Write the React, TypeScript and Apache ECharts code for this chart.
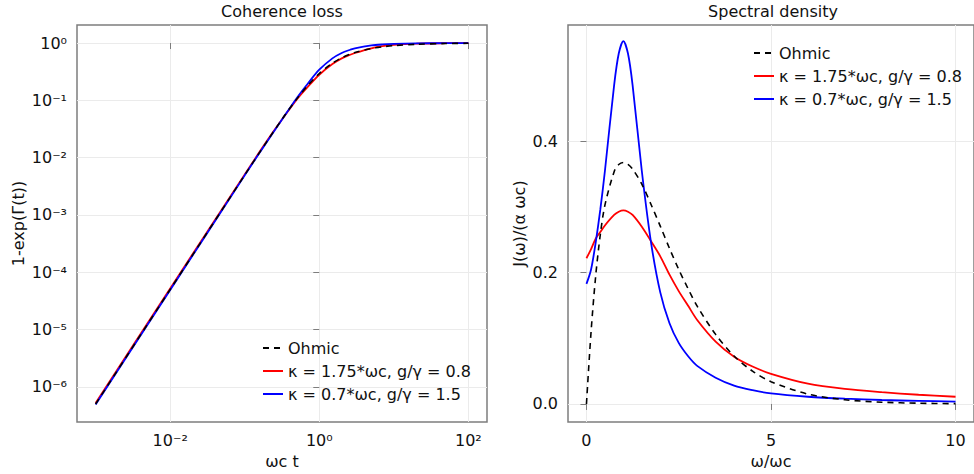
import React, { useEffect, useRef } from 'react';
import * as echarts from 'echarts';

// ---- Left panel: coherence loss 1-exp(Γ(t)) vs ωc t (log-log) ----
const tValues = [0.001, 0.01, 0.1, 0.2, 0.33, 0.5, 0.7, 1, 1.5, 2, 2.6, 3, 5, 7, 10, 20, 50, 100];
const ohmicLoss = [5.0e-7, 5.0e-5, 4.96e-3, 0.0194, 0.0505, 0.106, 0.181, 0.293, 0.445, 0.553, 0.641, 0.684, 0.804, 0.859, 0.9, 0.95, 0.98, 0.99];
const redLoss = [5.2e-7, 5.2e-5, 5.1e-3, 0.0198, 0.05, 0.104, 0.172, 0.28, 0.43, 0.54, 0.625, 0.67, 0.81, 0.88, 0.93, 0.975, 0.993, 0.998];
const blueLoss = [4.9e-7, 4.9e-5, 4.9e-3, 0.0192, 0.05, 0.11, 0.195, 0.342, 0.54, 0.67, 0.764, 0.81, 0.91, 0.945, 0.965, 0.985, 0.995, 0.998];
const leftXTicks = [-2, 0, 2]; // exponents
const leftYTicks = [-6, -5, -4, -3, -2, -1, 0]; // exponents

// ---- Right panel: spectral density J(ω)/(α ωc) vs ω/ωc ----
const omega = [0, 0.125, 0.25, 0.375, 0.5, 0.75, 0.875, 1, 1.125, 1.25, 1.5, 1.75, 2, 2.25, 2.5, 2.75, 3, 3.5, 4, 4.5, 5, 6, 7, 8, 9, 10];
const ohmicJ = [0, 0.11, 0.195, 0.258, 0.303, 0.354, 0.365, 0.368, 0.365, 0.358, 0.335, 0.304, 0.271, 0.237, 0.205, 0.176, 0.149, 0.106, 0.073, 0.05, 0.034, 0.015, 0.0064, 0.0027, 0.0011, 0.00045];
const redJ = [0.222, 0.236, 0.252, 0.262, 0.272, 0.288, 0.293, 0.295, 0.293, 0.288, 0.27, 0.248, 0.225, 0.197, 0.172, 0.15, 0.128, 0.095, 0.072, 0.057, 0.046, 0.031, 0.023, 0.018, 0.014, 0.011];
const blueJ = [0.183, 0.205, 0.246, 0.296, 0.355, 0.486, 0.534, 0.553, 0.534, 0.486, 0.355, 0.246, 0.17, 0.123, 0.093, 0.073, 0.058, 0.04, 0.028, 0.021, 0.016, 0.011, 0.008, 0.006, 0.0047, 0.0037];
const rightXTicks = [0, 5, 10];
const rightYTicks = [0, 0.2, 0.4];

const seriesNames = ['Ohmic', 'κ = 1.75*ωc, g/γ = 0.8', 'κ = 0.7*ωc, g/γ = 1.5'];
const titles = ['Coherence loss', 'Spectral density'];

const FONT = 'DejaVu Sans';
const SPINE = '#7d7d7d';
const GRIDLINE = '#ebebeb';

const SUP: Record<string, string> = {
  '-': '⁻', '0': '⁰', '1': '¹', '2': '²', '3': '³', '4': '⁴', '5': '⁵', '6': '⁶', '7': '⁷', '8': '⁸', '9': '⁹',
};
const pow10Label = (v: number) => '10' + String(Math.round(v)).split('').map((c) => SUP[c] ?? c).join('');

function makeAxis(opts: any) {
  const { gridIndex, min, max, ticks, formatter, name, nameGap } = opts;
  return {
    type: 'value',
    gridIndex,
    min,
    max,
    name,
    nameLocation: 'middle',
    nameGap,
    nameTextStyle: { fontFamily: FONT, fontSize: 16, color: '#111' },
    axisLine: { show: false },
    axisTick: { show: true, customValues: ticks, length: 6, lineStyle: { color: SPINE, width: 1 } },
    axisLabel: {
      show: true,
      customValues: ticks,
      formatter,
      fontFamily: FONT,
      fontSize: 16,
      color: '#111',
      margin: 10,
    },
    splitLine: { show: true, lineStyle: { color: GRIDLINE, width: 1 } },
  };
}

const lineStyles = [
  { color: '#000000', width: 1.6, type: [6, 5] as any },
  { color: '#ff0000', width: 1.8, type: 'solid' },
  { color: '#0000ff', width: 1.8, type: 'solid' },
];

export default function App() {
  const ref = useRef<HTMLDivElement>(null);
  useEffect(() => {
    if (!ref.current) return;
    const chart = echarts.init(ref.current, undefined, { renderer: 'svg' });

    const leftData = [ohmicLoss, redLoss, blueLoss].map((ys) =>
      tValues.map((t, i) => [Math.log10(t), Math.log10(ys[i])])
    );
    const rightData = [ohmicJ, redJ, blueJ].map((ys) => omega.map((w, i) => [w, ys[i]]));

    const series: any[] = [];
    [leftData, rightData].forEach((panel, p) => {
      panel.forEach((d, k) => {
        series.push({
          type: 'line',
          name: seriesNames[k],
          xAxisIndex: p,
          yAxisIndex: p,
          data: d,
          showSymbol: false,
          symbol: 'none',
          smooth: 0.3,
          lineStyle: lineStyles[k],
          itemStyle: { color: lineStyles[k].color },
          z: k === 0 ? 3 : 2,
        });
      });
    });

    const legendCommon = {
      orient: 'vertical',
      data: seriesNames,
      itemWidth: 20,
      itemHeight: 14,
      itemGap: 7,
      selectedMode: false,
      padding: 0,
      itemStyle: { opacity: 0, color: 'transparent', borderColor: 'transparent', borderWidth: 0 },
      textStyle: { fontFamily: FONT, fontSize: 16, color: '#111', lineHeight: 16 },
    };

    chart.setOption({
      animation: false,
      backgroundColor: '#ffffff',
      title: [
        {
          text: titles[0],
          left: 282,
          top: 3,
          textAlign: 'center',
          padding: 0,
          textStyle: { fontFamily: FONT, fontSize: 16, fontWeight: 'normal', color: '#111' },
        },
        {
          text: titles[1],
          left: 773,
          top: 3,
          textAlign: 'center',
          padding: 0,
          textStyle: { fontFamily: FONT, fontSize: 16, fontWeight: 'normal', color: '#111' },
        },
      ],
      legend: [
        { ...legendCommon, left: 262, top: 340 },
        { ...legendCommon, left: 753, top: 45 },
      ],
      grid: [
        { left: 77, top: 25, width: 410, height: 397, show: true, borderColor: SPINE, borderWidth: 1.5, backgroundColor: 'transparent' },
        { left: 568, top: 25, width: 410, height: 397, show: true, borderColor: SPINE, borderWidth: 1.5, backgroundColor: 'transparent' },
      ],
      xAxis: [
        makeAxis({ gridIndex: 0, min: -3.25, max: 2.25, ticks: leftXTicks, formatter: pow10Label, name: 'ωc t', nameGap: 31 }),
        makeAxis({ gridIndex: 1, min: -0.5, max: 10.5, ticks: rightXTicks, formatter: (v: number) => String(v), name: 'ω/ωc', nameGap: 31 }),
      ],
      yAxis: [
        makeAxis({ gridIndex: 0, min: -6.615, max: 0.315, ticks: leftYTicks, formatter: pow10Label, name: '1-exp(Γ(t))', nameGap: 51 }),
        makeAxis({ gridIndex: 1, min: -0.0275, max: 0.5775, ticks: rightYTicks, formatter: (v: number) => v.toFixed(1), name: 'J(ω)/(α ωc)', nameGap: 41 }),
      ],
      series,
    });
    return () => chart.dispose();
  }, []);
  return (
    <div
      ref={ref}
      style={{ position: 'absolute', left: 0, top: 0, width: 974, height: 474, background: '#fff' }}
    />
  );
}
